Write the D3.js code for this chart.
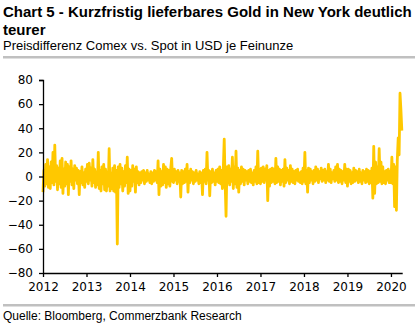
<!DOCTYPE html>
<html>
<head>
<meta charset="utf-8">
<script src="https://cdn.jsdelivr.net/npm/d3@7"></script>
<style>
html,body{margin:0;padding:0;background:#fff;}
svg{display:block;}
</style>
</head>
<body>
<svg id="chart" width="418" height="324"></svg>
<script>
// ---- data (USD per troy ounce, Comex minus spot), ~48 readings per year ----
const title1 = "Chart 5 - Kurzfristig lieferbares Gold in New York deutlich";
const title2 = "teurer";
const subtitle = "Preisdifferenz Comex vs. Spot in USD je Feinunze";
const source = "Quelle: Bloomberg, Commerzbank Research";
const yTicks = [80, 60, 40, 20, 0, -20, -40, -60, -80];
const xTickYears = [2012, 2013, 2014, 2015, 2016, 2017, 2018, 2019, 2020];
const endYear = 2020.27;

const v2012 = [-13,5,-8,10,-6,14,-9,8,-10,12,-5,20, -7,26,-4,9,-11,7,-6,13,-9,15,-14,6,
               -8,12,-6,10,-15,8,-4,13,-7,6,-10,9, -3,7,-6,5,-15,4,-5,8,-7,3,-9,6];
const v2013 = [-4,10,-6,11,-3,7,-8,14,-5,6,-9,4, -7,20,-10,5,-12,8,-6,10,-11,6,-12,4,
               -8,23,-12,3,-10,7,-12,9,-13,5,-56,8, -9,10,-6,7,-12,4,-8,9,-5,16,-14,6];
const v2014 = [-12,5,-8,9,-4,6,-13,8,-5,4,-7,3, -5,4,-3,5,-6,3,-4,5,-3,2,-5,4,
               -6,3,-4,5,-3,4,-5,13,-15,6,-8,4, -7,10,-5,8,-9,6,-6,5,-8,7,15,-4];
const v2015 = [-5,6,-3,4,-6,5,-4,3,-17,5,-6,4, -5,6,-4,10,-13,4,-5,6,-3,4,-6,3,
               -4,5,-3,2,-6,4,-5,3,-15,5,-4,6, -6,20,-3,5,-16,4,-5,6,-4,3,-7,5];
const v2016 = [-4,6,-5,8,-6,5,-10,7,31,-5,-33,8, -5,9,-7,6,-4,16,-10,8,-6,21,-9,7,
               -13,5,-6,8,-4,6,-7,5,-3,4,-6,5, -4,6,-5,3,-7,5,-4,8,-6,21,-5,6];
const v2017 = [-6,7,-4,8,-5,6,-3,9,-20,5,-8,6, -5,7,-4,6,-6,15,-5,8,-4,6,-7,5,
               -4,6,-8,14,-5,7,-3,5,-6,9,-4,6, -5,4,-6,5,-3,6,-4,3,-5,4,-6,7];
const v2018 = [-4,20,-6,5,-13,7,-5,6,-3,4,-6,5, -4,8,-3,6,-5,4,-2,7,-4,5,-3,6,
               -5,4,-3,10,-4,6,-5,3,-2,5,-4,8, -3,10,-5,6,-4,5,-6,4,-3,10,-5,6];
const v2019 = [-8,6,-4,5,-6,3,-5,7,-4,5,-3,4, -5,6,-4,3,-6,5,-3,4,-5,6,-4,5,
               -6,4,-5,7,-18,25,-14,12,-6,8,-5,23, -4,12,-6,8,-5,4,-6,5,-3,6,-5,4];
const v2020 = [-5,16,-6,10,-25,8,-28,14,32,18,69,55,38];

const yearly = [[2012,v2012],[2013,v2013],[2014,v2014],[2015,v2015],[2016,v2016],
                [2017,v2017],[2018,v2018],[2019,v2019],[2020,v2020]];
const data = [];
yearly.forEach(([yr, arr]) => {
  arr.forEach((v, i) => data.push({t: yr + i / 48, v}));
});

// ---- drawing ----
const svg = d3.select("#chart");
const x = d3.scaleLinear().domain([2012, endYear]).range([43, 402.7]);
const y = d3.scaleLinear().domain([-80, 80]).range([273, 80]);

// titles
svg.append("text").attr("x", 3).attr("y", 17)
  .attr("font-family", "Liberation Sans, Arial, sans-serif").attr("font-weight", "bold")
  .attr("font-size", 15).attr("fill", "#000").text(title1);
svg.append("text").attr("x", 3).attr("y", 35)
  .attr("font-family", "Liberation Sans, Arial, sans-serif").attr("font-weight", "bold")
  .attr("font-size", 15).attr("fill", "#000").text(title2);
svg.append("text").attr("x", 3).attr("y", 50)
  .attr("font-family", "Liberation Sans, Arial, sans-serif")
  .attr("font-size", 13).attr("fill", "#000").text(subtitle);
svg.append("rect").attr("x", 3).attr("y", 56).attr("width", 412).attr("height", 2.5).attr("fill", "#c0c0c0");
svg.append("rect").attr("x", 3).attr("y", 304).attr("width", 412).attr("height", 2.5).attr("fill", "#c0c0c0");
svg.append("text").attr("x", 3).attr("y", 320)
  .attr("font-family", "Liberation Sans, Arial, sans-serif")
  .attr("font-size", 12).attr("fill", "#000").text(source);

// series
const line = d3.line().x(d => x(d.t)).y(d => y(d.v));
svg.append("path").datum(data)
  .attr("d", line).attr("fill", "none")
  .attr("stroke", "#ffc800").attr("stroke-width", 2.8).attr("stroke-linejoin", "round");

// axes
const yAxis = d3.axisLeft(y).tickValues(yTicks).tickSize(4).tickPadding(6);
const gy = svg.append("g").attr("transform", "translate(43,0)").call(yAxis);
const xAxis = d3.axisBottom(x).tickValues(xTickYears).tickFormat(d3.format("d")).tickSize(4).tickPadding(5);
const gx = svg.append("g").attr("transform", "translate(0,273)").call(xAxis);
[gx, gy].forEach(g => {
  g.select(".domain").attr("stroke", "#000").attr("stroke-width", 1.3);
  g.selectAll(".tick line").attr("stroke", "#000").attr("stroke-width", 1.3);
  g.selectAll("text").attr("font-family", "DejaVu Sans, Verdana, sans-serif")
    .attr("font-size", 12).attr("fill", "#000");
});
gy.select(".domain").attr("d", "M-4,80.5H0.5V273");
gx.select(".domain").attr("d", "M43,0.5H402.7");
</script>
</body>
</html>
